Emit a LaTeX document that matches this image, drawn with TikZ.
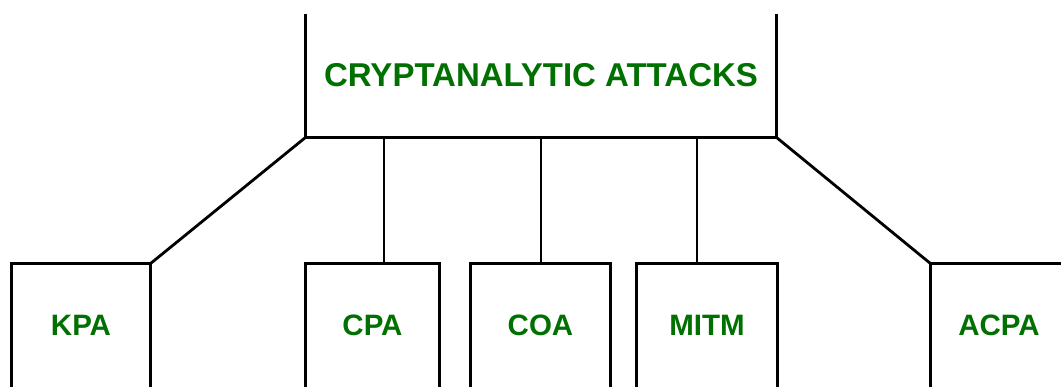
\documentclass[tikz,border=0pt]{standalone}
\usepackage{fontspec}
\setmainfont{Liberation Sans}
\usetikzlibrary{calc}
\definecolor{labelgreen}{RGB}{0,112,0}
\tikzset{
  edge/.style={line width=2.8pt, black},
  label/.style={inner sep=0pt, text=labelgreen},
  headbox/.style={label, font=\bfseries\fontsize{33}{36}\selectfont,
    minimum width=470pt, minimum height=123pt},
  leafbox/.style={label, font=\bfseries\fontsize{29.5}{33}\selectfont,
    minimum height=123pt, text depth=0pt, text height=21pt},
}
\begin{document}
\begin{tikzpicture}[x=1pt, y=-1pt]
  \clip (0,0) rectangle (1061,387);
  \fill[white] (0,0) rectangle (1061,387);

  % root box: open at the top
  \node[headbox] (root) at (541,75.5) {CRYPTANALYTIC ATTACKS};
  \draw[edge] (root.north west) -- (root.south west) -- (root.south east) -- (root.north east);

  % leaf boxes: open at the bottom
  \node[leafbox, minimum width=138pt] (kpa)  at (81,325.5)    {KPA};
  \node[leafbox, minimum width=133pt] (cpa)  at (372.5,325.5) {CPA};
  \node[leafbox, minimum width=139pt] (coa)  at (540.5,325.5) {COA};
  \node[leafbox, minimum width=140pt] (mitm) at (707,325.5)   {MITM};
  \node[leafbox, minimum width=136pt] (acpa) at (999,325.5)   {ACPA};
  \foreach \n in {kpa,cpa,coa,mitm,acpa}
    \draw[edge] (\n.south west) -- (\n.north west) -- (\n.north east) -- (\n.south east);

  % connectors
  \draw[edge] (root.south west) -- (kpa.north east);
  \draw[edge] (root.south east) -- (acpa.north west);
  \draw[edge] ([xshift=-157pt]root.south) -- ([xshift=-157pt]root.south |- cpa.north);
  \draw[edge] (root.south) -- (root.south |- coa.north);
  \draw[edge] ([xshift=156pt]root.south) -- ([xshift=156pt]root.south |- mitm.north);
\end{tikzpicture}
\end{document}
